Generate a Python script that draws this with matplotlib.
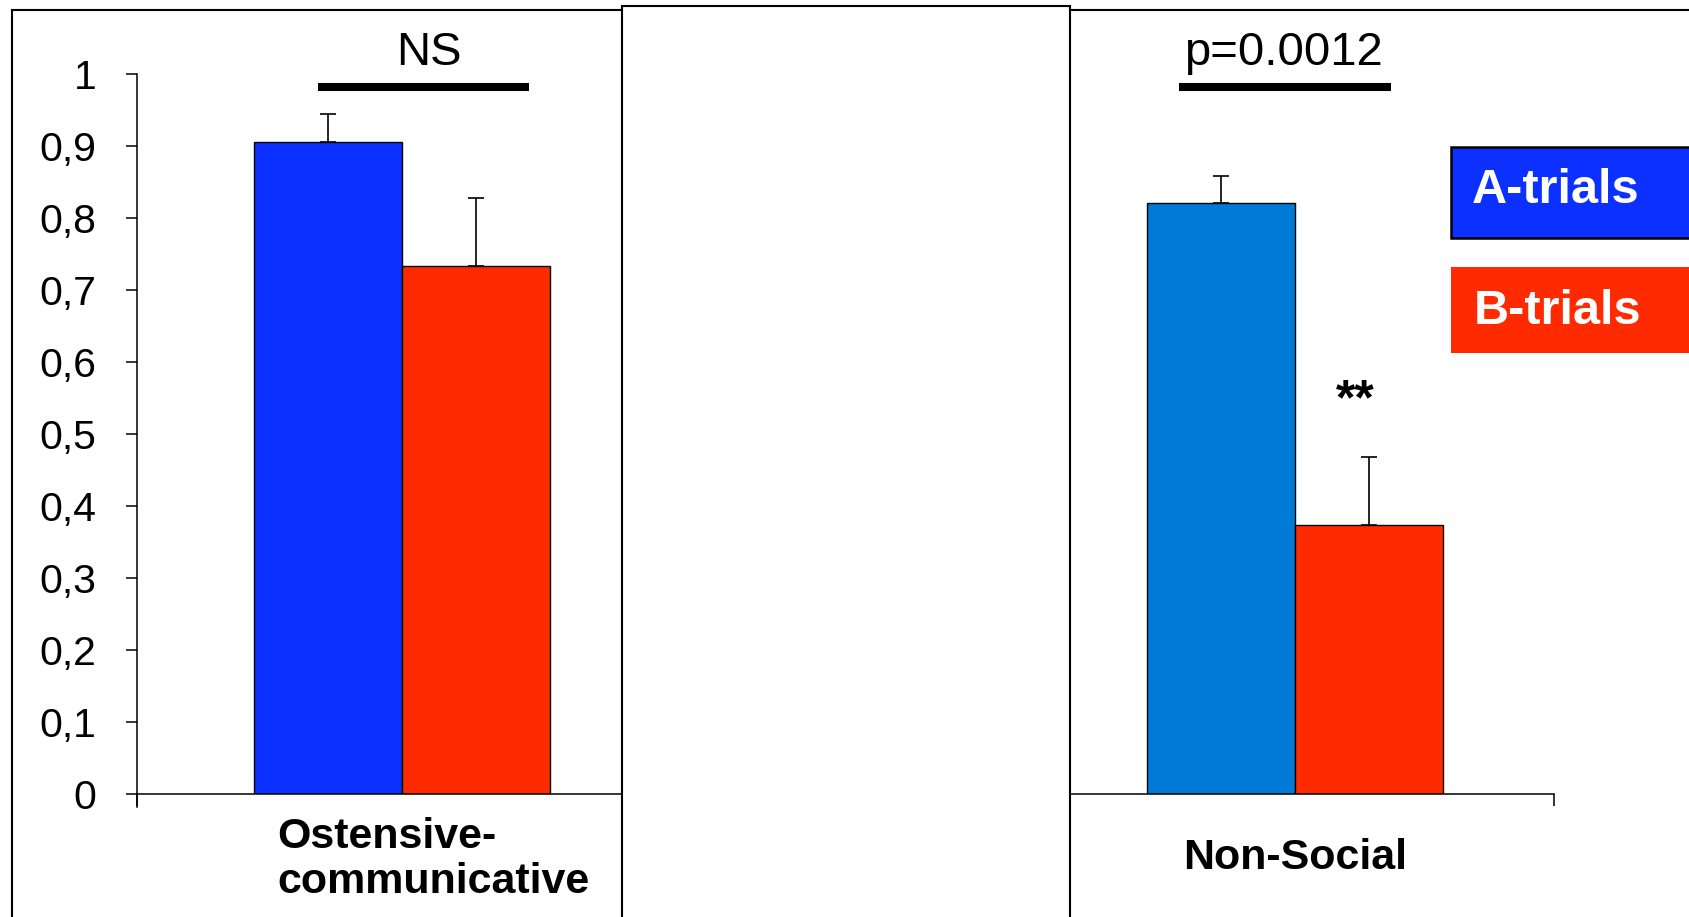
import numpy as np
import matplotlib
matplotlib.use("Agg")
import matplotlib.pyplot as plt
from matplotlib.patches import Rectangle
from matplotlib.lines import Line2D

plt.rcParams.update({
    "font.family": ["Liberation Sans", "DejaVu Sans"],
    "axes.linewidth": 1.1,
})

# data
groups = ["Ostensive-\ncommunicative", "Non-Social"]
series = ["A-trials", "B-trials"]
a_means = [0.906, 0.821]
a_err = [0.038, 0.037]
b_means = [0.733, 0.374]
b_err = [0.095, 0.094]
yticks = [0.0, 0.1, 0.2, 0.3, 0.4, 0.5, 0.6, 0.7, 0.8, 0.9, 1.0]
ytick_labels = ["0", "0,1", "0,2", "0,3", "0,4", "0,5", "0,6", "0,7", "0,8", "0,9", "1"]
sig_labels = ["NS", "p=0.0012"]

a_colors = ["#0b30ff", "#007ad6"]
b_colors = ["#ff2a00", "#ff2a00"]
leg_colors = ["#0b30ff", "#ff2a00"]

W, H = 1689, 917


def fx(x):
    return x / W


def fy(y):
    return 1 - y / H


fig = plt.figure(figsize=(W / 100, H / 100), dpi=100)
ax = fig.add_axes([fx(137), fy(794), 1 - fx(137), 720 / H])

x = np.arange(len(groups))
w = 0.1657
ax.bar(x - w / 2, a_means, w, color=a_colors, edgecolor="black", linewidth=1,
       yerr=[np.zeros(2), a_err], error_kw=dict(ecolor="black", elinewidth=1.2, capsize=5.5, capthick=1.2))
ax.bar(x + w / 2, b_means, w, color=b_colors, edgecolor="black", linewidth=1,
       yerr=[np.zeros(2), b_err], error_kw=dict(ecolor="black", elinewidth=1.2, capsize=5.5, capthick=1.2))

ax.set_xlim(-0.2968, 1.441)
ax.set_ylim(0, 1)
for s in ["top", "right"]:
    ax.spines[s].set_visible(False)
ax.spines["left"].set_bounds(-0.018, 1)
ax.spines["bottom"].set_bounds(-0.2968, 1.29)
ax.set_yticks(yticks)
ax.set_yticklabels(ytick_labels, family=["Liberation Sans Narrow", "Liberation Sans"], fontsize=29.5)
ax.tick_params(axis="y", direction="out", length=8, width=1.1, pad=21)
ax.set_xticks([-0.2968, 1.29])
ax.set_xticklabels([])
ax.tick_params(axis="x", direction="out", length=8.5, width=1.1)

# group labels
ax.text(-0.140, -0.091, groups[0], ha="left", va="center", multialignment="left",
        fontsize=31, fontweight="bold", linespacing=1.18, clip_on=False)
ax.text(x[1], -0.089, groups[1], ha="center", va="center",
        fontsize=31, fontweight="bold", clip_on=False)

# significance bars
ax.plot([-0.094, 0.142], [0.982, 0.982], color="black", lw=5.8, solid_capstyle="butt", clip_on=False)
ax.text(0.03, 1.0125, sig_labels[0], ha="center", va="baseline", fontsize=34, clip_on=False)
ax.plot([0.870, 1.1075], [0.982, 0.982], color="black", lw=5.8, solid_capstyle="butt", clip_on=False)
ax.text(0.9866, 1.0125, sig_labels[1], ha="center", va="baseline", fontsize=34, clip_on=False)
ax.text(1.067, 0.545, "**", ha="center", va="center", fontsize=36, fontweight="bold")

# panel frames
fig.add_artist(Line2D([fx(12), fx(622)], [fy(10), fy(10)], color="black", lw=1.5))
fig.add_artist(Line2D([fx(12), fx(12)], [fy(10), fy(930)], color="black", lw=1.5))
fig.add_artist(Line2D([fx(1070), 1.0], [fy(10), fy(10)], color="black", lw=1.5))
fig.add_artist(Rectangle((fx(622), fy(930)), fx(1070 - 622), (930 - 6) / H,
                         transform=fig.transFigure, facecolor="white", edgecolor="black",
                         lw=1.5, zorder=1))

# legend boxes
fig.add_artist(Rectangle((fx(1451), fy(238)), 0.2, 91 / H, transform=fig.transFigure,
                         facecolor=leg_colors[0], edgecolor="black", lw=1.8, zorder=1))
fig.add_artist(Rectangle((fx(1451), fy(353)), 0.2, 86 / H, transform=fig.transFigure,
                         facecolor=leg_colors[1], edgecolor="none", zorder=1))
fig.text(fx(1472), fy(203), series[0], color="white", fontsize=35, fontweight="bold", va="baseline")
fig.text(fx(1474), fy(324), series[1], color="white", fontsize=35, fontweight="bold", va="baseline")

fig.savefig("out.png", dpi=100)
